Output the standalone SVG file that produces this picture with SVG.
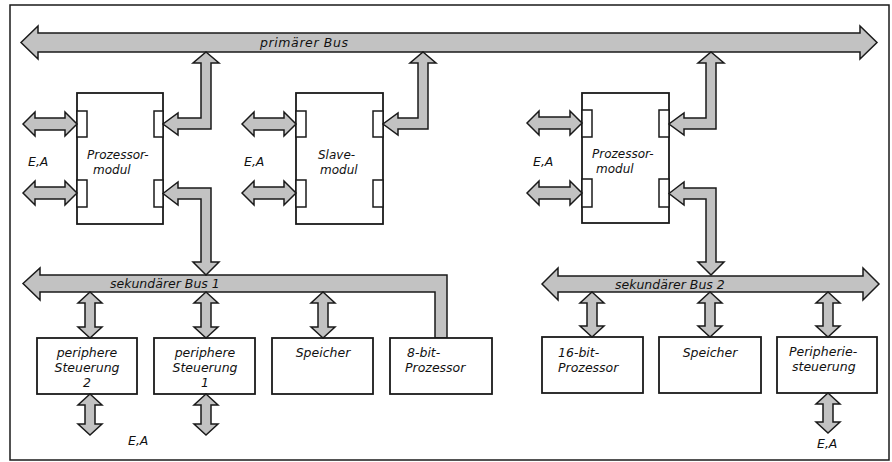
<svg xmlns="http://www.w3.org/2000/svg" width="892" height="462" viewBox="0 0 892 462">
<style>
.box{fill:#fff;stroke:#1a1a1a;stroke-width:1.8}
.port{fill:#fff;stroke:#1a1a1a;stroke-width:1.5}
.arr{fill:#c2c2c2;stroke:#1a1a1a;stroke-width:1.5;stroke-linejoin:miter}
.t{font-family:"DejaVu Sans","Liberation Sans",sans-serif;font-style:italic;font-size:12.5px;fill:#111}
.m{font-size:12px}
.b{letter-spacing:0.6px}
.c{text-anchor:middle}
</style>
<rect x="0" y="0" width="892" height="462" fill="#fff"/>
<rect x="10" y="5" width="879" height="455" fill="none" stroke="#1a1a1a" stroke-width="1.5"/>

<g id="primary-bus">
<path class="arr" d="M21,42.5 L38,26 L38,33 L860,33 L860,26 L877,42.5 L860,59 L860,52 L38,52 L38,59 Z"/>
<text class="t b" x="260" y="47">primärer  Bus</text>
</g>

<g id="bus1">
<path class="arr" d="M23,283.5 L40,268 L40,275 L447,275 L447,338 L435,338 L435,292 L40,292 L40,300 Z"/>
<text class="t" x="110" y="288">sekundärer Bus 1</text>
</g>

<g id="bus2">
<path class="arr" d="M542,284 L558,268 L558,276 L863,276 L863,268 L879,284 L863,300 L863,292 L558,292 L558,300 Z"/>
<text class="t" x="615" y="289">sekundärer Bus 2</text>
</g>

<g id="proc1">
<rect class="box" x="77" y="93" width="86" height="131"/>
<rect class="port" x="77" y="111" width="10" height="26"/>
<rect class="port" x="77" y="180" width="10" height="27"/>
<rect class="port" x="154" y="111" width="9" height="26"/>
<rect class="port" x="154" y="180" width="9" height="27"/>
<text class="t m" x="87" y="158.5">Prozessor-</text>
<text class="t m" x="93" y="173.5">modul</text>
</g>

<g id="slave">
<rect class="box" x="296" y="93" width="87" height="131"/>
<rect class="port" x="296" y="111" width="10" height="26"/>
<rect class="port" x="296" y="180" width="10" height="27"/>
<rect class="port" x="373" y="111" width="10" height="26"/>
<rect class="port" x="373" y="180" width="10" height="27"/>
<text class="t m" x="318" y="159">Slave-</text>
<text class="t m" x="320" y="174">modul</text>
</g>

<g id="proc2">
<rect class="box" x="582" y="93" width="87" height="130"/>
<rect class="port" x="582" y="110" width="10" height="27"/>
<rect class="port" x="582" y="179" width="10" height="28"/>
<rect class="port" x="659" y="110" width="10" height="27"/>
<rect class="port" x="659" y="179" width="10" height="28"/>
<text class="t m" x="592" y="158">Prozessor-</text>
<text class="t m" x="596" y="173">modul</text>
</g>

<g id="periph2">
<rect class="box" x="37" y="338" width="100" height="56"/>
<text class="t c" x="87" y="357">periphere</text>
<text class="t c" x="87" y="372">Steuerung</text>
<text class="t c" x="87" y="387">2</text>
</g>
<g id="periph1">
<rect class="box" x="154" y="338" width="101" height="56"/>
<text class="t c" x="205" y="357">periphere</text>
<text class="t c" x="205" y="372">Steuerung</text>
<text class="t c" x="205" y="387">1</text>
</g>
<g id="mem1">
<rect class="box" x="272" y="338" width="101" height="56"/>
<text class="t c" x="323" y="357">Speicher</text>
</g>
<g id="cpu8">
<rect class="box" x="390" y="338" width="102" height="56"/>
<text class="t" x="407" y="357">8-bit-</text>
<text class="t" x="405" y="372">Prozessor</text>
</g>
<g id="cpu16">
<rect class="box" x="542" y="337" width="101" height="56"/>
<text class="t" x="558" y="357">16-bit-</text>
<text class="t" x="558" y="372">Prozessor</text>
</g>
<g id="mem2">
<rect class="box" x="659" y="337" width="102" height="56"/>
<text class="t c" x="710" y="357">Speicher</text>
</g>
<g id="periph3">
<rect class="box" x="777" y="337" width="100" height="56"/>
<text class="t" x="789" y="356">Peripherie-</text>
<text class="t" x="792" y="371">steuerung</text>
</g>

<g id="labels">
<text class="t" x="28" y="166">E,A</text>
<text class="t" x="244" y="166">E,A</text>
<text class="t" x="533" y="166">E,A</text>
<text class="t" x="128" y="445">E,A</text>
<text class="t" x="817" y="448">E,A</text>
</g>

<g id="connectors">
<path class="arr" d="M23,124 L35,112 L35,118 L65,118 L65,112 L77,124 L65,136 L65,130 L35,130 L35,136 Z"/>
<path class="arr" d="M23,193 L35,181 L35,187 L65,187 L65,181 L77,193 L65,205 L65,199 L35,199 L35,205 Z"/>
<path class="arr" d="M242,124 L254,112 L254,118 L284,118 L284,112 L296,124 L284,136 L284,130 L254,130 L254,136 Z"/>
<path class="arr" d="M242,193 L254,181 L254,187 L284,187 L284,181 L296,193 L284,205 L284,199 L254,199 L254,205 Z"/>
<path class="arr" d="M527,123 L539,111 L539,117 L570,117 L570,111 L582,123 L570,135 L570,129 L539,129 L539,135 Z"/>
<path class="arr" d="M527,193 L539,181 L539,187 L570,187 L570,181 L582,193 L570,205 L570,199 L539,199 L539,205 Z"/>
<path class="arr" d="M206,52 L219,63 L211,63 L211,129 L178,129 L178,135 L163,124 L178,113 L178,118 L201,118 L201,63 L193,63 Z"/>
<path class="arr" d="M163,193.5 L178,182 L178,188 L211,188 L211,262 L219,262 L206,275 L193,262 L201,262 L201,199 L178,199 L178,205 Z"/>
<path class="arr" d="M423,52 L436,63 L428,63 L428,129 L398,129 L398,135 L383,124 L398,113 L398,118 L418,118 L418,63 L410,63 Z"/>
<path class="arr" d="M711,52 L724,63 L716,63 L716,129 L684,129 L684,135 L669,124 L684,113 L684,118 L706,118 L706,63 L698,63 Z"/>
<path class="arr" d="M669,193.5 L684,182 L684,188 L716,188 L716,262 L724,262 L711,275 L698,262 L706,262 L706,199 L684,199 L684,205 Z"/>
<path class="arr" d="M90,292 L102,303 L95,303 L95,327 L102,327 L90,338 L78,327 L85,327 L85,303 L78,303 Z"/>
<path class="arr" d="M206,292 L218,303 L211,303 L211,327 L218,327 L206,338 L194,327 L201,327 L201,303 L194,303 Z"/>
<path class="arr" d="M323,292 L335,303 L328,303 L328,327 L335,327 L323,338 L311,327 L318,327 L318,303 L311,303 Z"/>
<path class="arr" d="M90,394 L102,405 L95,405 L95,424 L102,424 L90,435 L78,424 L85,424 L85,405 L78,405 Z"/>
<path class="arr" d="M206,394 L218,405 L211,405 L211,424 L218,424 L206,435 L194,424 L201,424 L201,405 L194,405 Z"/>
<path class="arr" d="M592,292 L604,303 L597,303 L597,326 L604,326 L592,337 L580,326 L587,326 L587,303 L580,303 Z"/>
<path class="arr" d="M710,292 L722,303 L715,303 L715,326 L722,326 L710,337 L698,326 L705,326 L705,303 L698,303 Z"/>
<path class="arr" d="M828,292 L840,303 L833,303 L833,326 L840,326 L828,337 L816,326 L823,326 L823,303 L816,303 Z"/>
<path class="arr" d="M828,393 L840,404 L833,404 L833,422 L840,422 L828,433 L816,422 L823,422 L823,404 L816,404 Z"/>
</g>
</svg>
